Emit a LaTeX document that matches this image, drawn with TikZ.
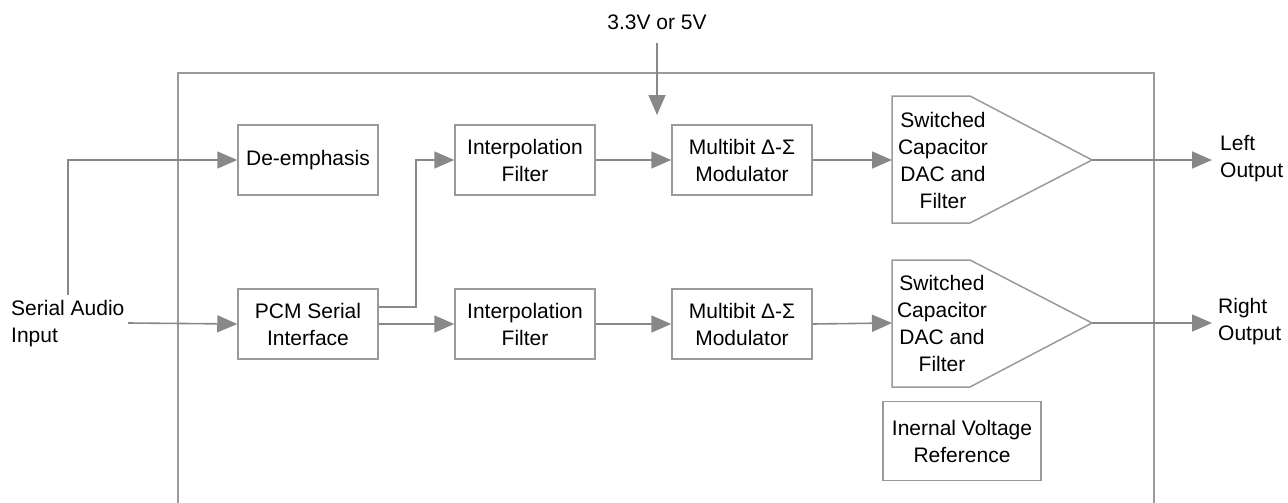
\documentclass[tikz,border=0pt]{standalone}
\usepackage{fontspec}
\setmainfont{Liberation Sans}
\usetikzlibrary{arrows.meta}
\definecolor{lg}{HTML}{888888}
\definecolor{bg}{HTML}{9A9A9A}
\begin{document}
\begin{tikzpicture}[x=1pt,y=-1pt,
  blk/.style={draw=bg,line width=1.5pt,minimum width=140pt,minimum height=70pt,align=center,font=\fontsize{21}{27}\selectfont,inner sep=0pt},
  lbl/.style={font=\fontsize{21}{27}\selectfont,inner sep=0pt},
  conn/.style={draw=lg,line width=1.6pt,-{Triangle[length=20pt,width=17pt]}},
  frame/.style={draw=bg,line width=1.5pt}]
\useasboundingbox (0,0) rectangle (1288,503);
% outer frame
\coordinate (fbl) at (178,505);
\coordinate (ftl) at (178,73);
\coordinate (ftr) at (1154,73);
\coordinate (fbr) at (1154,505);
\draw[frame] (fbl) -- (ftl) -- (ftr) -- (fbr);
% nodes
\node[lbl] (vin) at (657,22) {3.3V or 5V};
\coordinate (vtop) at (657,43);
\coordinate (vtip) at (657,115);
\node[blk] (de) at (308,160) {De-emphasis};
\node[blk] (pcm) at (308,324) {PCM Serial\\Interface};
\node[blk] (if1) at (525,160) {Interpolation\\Filter};
\node[blk] (if2) at (525,324) {Interpolation\\Filter};
\node[blk] (mb1) at (742,160) {Multibit Δ-Σ\\Modulator};
\node[blk] (mb2) at (742,324) {Multibit Δ-Σ\\Modulator};
\node[blk,minimum width=158pt,minimum height=79pt] (ref) at (962,441) {Inernal Voltage\\Reference};
% DAC shapes
\draw[frame] (892,96) -- (970,96) -- (1092,160) coordinate (d1o) -- (970,223) -- (892,223) -- cycle;
\coordinate (d1i) at (892,160);
\node[lbl,align=center] (d1t) at (943,160) {Switched\\Capacitor\\DAC and\\Filter};
\draw[frame] (892,260) -- (970,260) -- (1092,323) coordinate (d2o) -- (970,387) -- (892,387) -- cycle;
\coordinate (d2i) at (892,323);
\node[lbl,align=center] (d2t) at (942,323) {Switched\\Capacitor\\DAC and\\Filter};
% input label
\node[lbl,align=left,anchor=west] (sin) at (11,324) {Serial Audio\\ Input};
\coordinate (sinr) at (128,323);
\coordinate (vup) at (68,295);
% outputs
\coordinate (lo) at (1212,160);
\coordinate (ro) at (1212,323);
\node[lbl,align=left,anchor=west] (lt) at (1220,159) {Left\\Output};
\node[lbl,align=left,anchor=west] (rt) at (1218,322) {Right\\Output};
% connectors
\draw[conn] (vtop) -- (vtip);
\draw[conn] (vup) |- (de.west);
\draw[conn] (sinr) -- (pcm.west);
\draw[conn] ([yshift=17pt]pcm.east) -- ++(37,0) |- (if1.west);
\draw[conn] (pcm.east) -- (if2.west);
\draw[conn] (if1) -- (mb1);
\draw[conn] (if2) -- (mb2);
\draw[conn] (mb1.east) -- (d1i);
\draw[conn] (mb2.east) -- (d2i);
\draw[conn] (d1o) -- (lo);
\draw[conn] (d2o) -- (ro);
\end{tikzpicture}
\end{document}
